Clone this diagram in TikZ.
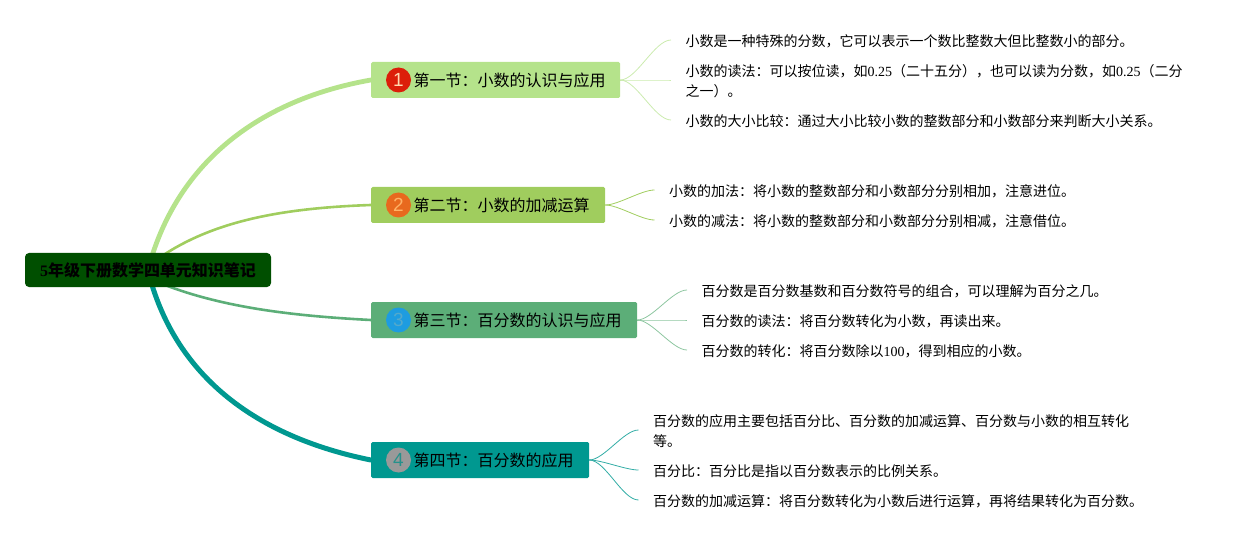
\documentclass[tikz,border=0pt]{standalone}
\usepackage{fontspec}
\setmainfont{Noto Sans CJK SC}
\newfontfamily\lat{Liberation Serif}
\newfontfamily\iconf{Liberation Sans}
\usetikzlibrary{backgrounds}
\definecolor{cA}{HTML}{B5E38B}
\definecolor{cB}{HTML}{A0CD5E}
\definecolor{cC}{HTML}{5CAE78}
\definecolor{cD}{HTML}{009890}
\definecolor{rootgreen}{HTML}{004F00}
\definecolor{redA}{HTML}{DC1E0A}
\definecolor{orB}{HTML}{E8691E}
\definecolor{blC}{HTML}{1E9CE0}
\definecolor{grD}{HTML}{999999}
\tikzset{
  x=1pt,y=-1pt,
  rootbox/.style={fill=rootgreen,rounded corners=4pt,minimum width=246pt,minimum height=34pt,inner sep=0pt,font=\fontsize{16}{18}\selectfont\bfseries,text=black},
  secbox/.style={rounded corners=1.5pt,minimum height=36pt,inner sep=0pt,font=\fontsize{16}{20}\selectfont,text=black},
  leaf/.style={anchor=west,inner xsep=14.5pt,inner ysep=0pt,align=left,font=\fontsize{14}{20}\selectfont,text=black},
  badge/.style={circle,minimum size=25pt,inner sep=0pt,font=\iconf\fontsize{19}{20}\selectfont},
  mainlink/.style={line cap=round},
  twig/.style={line width=0.8pt,out=0,in=180,looseness=0.65},
}
\begin{document}
\begin{tikzpicture}
\useasboundingbox (0,0) rectangle (1245,540);
% root
\node[rootbox] (root) at (148,270) {\raisebox{-1pt}{{\lat\bfseries 5}年级下册数学四单元知识笔记}};
\coordinate (r1) at (152,256);
\coordinate (r2) at (165,254);
\coordinate (r3) at (165,285);
\coordinate (r4) at (152,285);
% sections
\node[secbox,fill=cA,minimum width=249pt] (b1) at (495.5,80) {\makebox[249pt][l]{\hspace{42.5pt}\raisebox{-1pt}{第一节：小数的认识与应用}}};
\node[secbox,fill=cB,minimum width=234pt] (b2) at (488,205) {\makebox[234pt][l]{\hspace{42.5pt}\raisebox{-1pt}{第二节：小数的加减运算}}};
\node[secbox,fill=cC,minimum width=266pt] (b3) at (504,320) {\makebox[266pt][l]{\hspace{42.5pt}\raisebox{-1pt}{第三节：百分数的认识与应用}}};
\node[secbox,fill=cD,minimum width=218pt] (b4) at (480,460) {\makebox[218pt][l]{\hspace{42.5pt}\raisebox{-1pt}{第四节：百分数的应用}}};
% badges
\node[badge,fill=redA,text=orange!30!white] (i1) at (398.5,80) {1};
\node[badge,fill=orB,text=orange!60!white] (i2) at (398.5,205) {2};
\node[badge,fill=blC,text=cyan!60!gray] (i3) at (398.5,320) {3};
\node[badge,fill=grD,text=cD!70!gray] (i4) at (398.5,460) {4};
% leaves
\node[leaf] (l11) at (671,41) {小数是一种特殊的分数，它可以表示一个数比整数大但比整数小的部分。};
\node[leaf] (l12) at (671,81) {小数的读法：可以按位读，如{\lat 0.25}（二十五分），也可以读为分数，如{\lat 0.25}（二分\\之一）。};
\node[leaf] (l13) at (671,121) {小数的大小比较：通过大小比较小数的整数部分和小数部分来判断大小关系。};
\node[leaf] (l21) at (654.5,191) {小数的加法：将小数的整数部分和小数部分分别相加，注意进位。};
\node[leaf] (l22) at (654.5,221) {小数的减法：将小数的整数部分和小数部分分别相减，注意借位。};
\node[leaf] (l31) at (687,291) {百分数是百分数基数和百分数符号的组合，可以理解为百分之几。};
\node[leaf] (l32) at (687,321) {百分数的读法：将百分数转化为小数，再读出来。};
\node[leaf] (l33) at (687,351) {百分数的转化：将百分数除以{\lat 100}，得到相应的小数。};
\node[leaf] (l41) at (638.5,431) {百分数的应用主要包括百分比、百分数的加减运算、百分数与小数的相互转化\\等。};
\node[leaf] (l42) at (638.5,471) {百分比：百分比是指以百分数表示的比例关系。};
\node[leaf] (l43) at (638.5,501) {百分数的加减运算：将百分数转化为小数后进行运算，再将结果转化为百分数。};
\begin{scope}[on background layer]
\draw[mainlink,cA,line width=4.8pt] (r1) .. controls (182,162) and (258,100) .. (b1.west);
\draw[mainlink,cB,line width=2.6pt] (r2) .. controls (218,220) and (285,208) .. (b2.west);
\draw[mainlink,cC,line width=2.6pt] (r3) .. controls (225,308) and (295,316) .. (b3.west);
\draw[mainlink,cD,line width=5pt] (r4) .. controls (182,382) and (262,438) .. (b4.west);
\draw[twig,cA!70!white] (b1.east) to ([yshift=1pt]l11.west);
\draw[twig,cA!70!white] (b1.east) to ([yshift=1pt]l12.west);
\draw[twig,cA!70!white] (b1.east) to ([yshift=1pt]l13.west);
\draw[twig,cB] (b2.east) to ([yshift=1pt]l21.west);
\draw[twig,cB] (b2.east) to ([yshift=1pt]l22.west);
\draw[twig,cC!70!white] (b3.east) to ([yshift=1pt]l31.west);
\draw[twig,cC!70!white] (b3.east) to ([yshift=1pt]l32.west);
\draw[twig,cC!70!white] (b3.east) to ([yshift=1pt]l33.west);
\draw[twig,cD!80!white] (b4.east) to ([yshift=1pt]l41.west);
\draw[twig,cD!80!white] (b4.east) to ([yshift=1pt]l42.west);
\draw[twig,cD!80!white] (b4.east) to ([yshift=1pt]l43.west);
\end{scope}
\end{tikzpicture}
\end{document}
